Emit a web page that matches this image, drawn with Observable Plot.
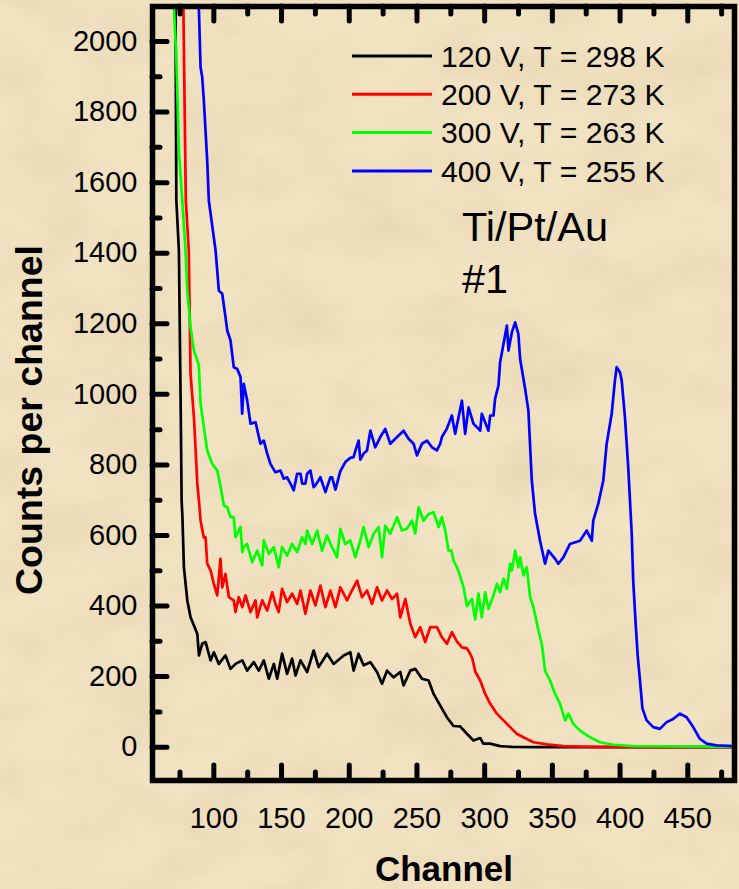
<!DOCTYPE html>
<html><head><meta charset="utf-8">
<script src="https://cdn.jsdelivr.net/npm/d3@7"></script>
<script src="https://cdn.jsdelivr.net/npm/@observablehq/plot@0.6"></script>
<style>
html,body{margin:0;padding:0;}
body{width:739px;height:889px;overflow:hidden;background:#f1e2c2;font-family:"Liberation Sans",Arial,sans-serif;}
#wrap{position:relative;width:739px;height:889px;}
#tex,#chart,#over{position:absolute;left:0;top:0;}
</style></head><body>
<div id="wrap">
<svg id="tex" width="739" height="889"><filter id="f" x="0" y="0" width="100%" height="100%"><feTurbulence type="fractalNoise" baseFrequency="0.012 0.02" numOctaves="4" seed="7"/><feColorMatrix type="matrix" values="0 0 0 0 0.62  0 0 0 0 0.47  0 0 0 0 0.25  0 0 0 1.6 -0.62"/></filter><rect width="739" height="889" filter="url(#f)" opacity="0.25"/></svg>
<div id="chart"></div>
<svg id="over" width="739" height="889"></svg>
</div>
<script>
// ---- data ----
const channels_120V = [71.6,71.9,72.3,74.2,75.6,76.2,76.8,77.9,80.4,82.8,85.3,87.8,89.0,91.4,93.9,97.6,100,103.7,108.6,112.3,116,121,124.6,129.5,133.2,136.9,140.6,144.3,146.8,150.4,154.1,157.8,160.3,164,168.9,173.7,177.4,183.6,188.5,195.9,200.8,203.2,206.9,210.6,215.6,220.5,224.2,227.9,232.7,237.7,240.1,245.1,248.7,253.7,258.6,262.3,267.2,272.1,277,281.9,286.9,291.7,296.7,299,304,311.4,320,340,380,430,485];
const counts_120V   = [2200,1900,1550,1407,935,699,652,510,416,368,345,321,260,293,298,246,269,236,260,222,236,246,217,241,217,246,194,236,194,265,208,251,203,246,213,274,227,265,236,260,269,217,265,232,241,213,180,217,198,213,175,217,222,194,189,151,118,85,60,59,38,19,26,10,10,3,1,0,0,0,0];

const channels_200V = [77.2,77.5,79.3,81.5,82.8,85.3,87.8,89,90.2,92.6,93.9,95.1,97.6,100,102.5,104.9,106.2,108.6,111.1,114.7,116,118.4,121,123.4,127.1,130.8,132,135.7,139.4,143.1,145.5,147.9,150.4,154.1,157.8,161.5,164,167.6,171.3,175,178.7,182.4,186.1,189.8,193.4,198.4,200.8,205.8,209.4,213.1,216.8,220.5,224.2,227.9,231.6,235.3,237.7,241.4,245.1,248.7,252.4,256.1,259.8,264.7,268.4,272.1,275.8,279.5,283.2,286.9,289.3,291,293,296.7,300.4,304.1,309,313.9,318.8,323.7,328.6,336,345.9,358,380,420,485];
const counts_200V   = [2200,2099,1549,1407,1059,935,747,699,642,594,595,520,501,463,430,534,453,491,425,416,383,425,397,430,383,416,368,416,387,439,406,383,449,411,435,406,444,378,444,402,458,397,444,397,453,416,435,472,425,444,406,453,416,444,420,435,368,420,350,312,340,298,340,340,312,293,326,300,283,280,265,250,215,189,151,123,95,76,57,38,28,14,8,3,1,0,0];

const channels_300V = [70.3,70.5,71.8,72.1,74.2,76.7,79.1,80.4,82.8,85.3,87.5,88.9,90.2,92.6,95.1,98.8,102.5,104.9,107.4,109.9,112.3,114.7,116,117.3,119.7,121,122.1,124.6,128.3,132,135.7,136.9,140.6,144.3,147.9,150.4,154.1,157.8,161.5,165.2,167.6,168.9,172.6,176.3,179.9,183.6,187.3,191,193.4,197.1,200.8,204.5,208.2,210.6,214.3,218,221.7,224.2,226.6,230.3,235.3,238.9,242.6,246.3,248.7,251.2,254.9,258.6,262.3,266,268.4,270.9,273.3,275.5,277,279.5,281.5,284.4,286.9,290.6,293,295.4,297.9,300.4,302.8,306.5,309,311.4,313.9,316.4,318.8,320.1,322.5,324.9,326.2,328.6,331.1,333.6,336,339.7,342.2,344.6,348.3,352,355.7,359.4,361.8,365.5,370.4,377.8,385.2,395,410,440,485];
const counts_300V   = [2200,2099,1994,1980,1691,1549,1407,1294,1190,1124,1100,1082,974,907,841,803,784,740,685,680,652,652,595,605,624,553,567,576,524,557,515,586,548,567,510,567,543,576,553,595,576,614,576,614,557,600,567,538,619,576,586,538,586,624,567,605,624,538,628,605,652,614,619,642,605,680,642,661,666,624,652,614,557,557,529,510,490,453,400,420,362,435,368,439,392,430,463,439,477,449,520,501,557,510,538,487,510,425,397,331,293,217,189,151,123,76,95,66,47,28,14,7,3,2,1];

const channels_400V = [88.5,88.9,90.2,91.4,92.6,95.1,96.3,101.3,103.7,106.2,108.6,109.9,112.3,114.7,117.3,119.7,120.9,122.1,124.6,127.1,130.8,134.4,136.9,139.4,141.8,145.5,149.2,151.6,154.1,156.6,159,161.5,164,165.2,167.6,168.9,171.3,173.7,175,178.7,182.4,183.6,186.1,187.3,189.8,193.4,197.1,200.8,203.2,204.5,206.9,208.2,210.6,213.1,215.6,219.2,222.9,226.6,230.3,235.3,240.1,243.8,247.5,250,253.7,257.4,261.1,264.7,267.2,268.4,272.1,275.8,278.2,283.2,285.6,288.1,291.7,296.7,297.9,302.8,304.1,306.5,307.7,310.2,311.4,313.9,316.4,317.6,320.1,322.5,324.9,326.2,329.9,332.3,334.8,337.2,340.9,344.6,347.1,352,354.4,358.1,363,370.4,375.4,379.1,380.2,383.9,387.6,390.1,393.8,396.2,397.5,399.9,401.2,403.6,406,408.6,409.7,411.5,413,414.7,416.5,419.6,424.5,429.4,434.4,439.2,444.2,449.1,454,458.9,463.9,471,485];
const counts_400V   = [2200,2099,1927,1899,1833,1663,1549,1407,1294,1285,1219,1181,1153,1077,1072,1049,945,1030,983,917,921,860,869,832,803,779,784,761,765,747,728,775,775,747,747,775,784,737,742,765,723,737,765,765,730,782,808,820,822,840,869,815,832,841,897,850,879,902,860,879,897,874,860,827,860,869,850,841,860,879,903,940,888,982,888,963,917,897,945,897,940,940,988,1025,1091,1143,1195,1124,1176,1204,1171,1100,1015,954,756,662,585,520,557,534,520,538,576,585,614,585,642,690,756,860,945,1039,1077,1063,1039,935,794,605,472,350,260,189,110,76,57,52,71,80,95,85,57,24,10,5,3];

const seriesLabels = ["120 V, T = 298 K","200 V, T = 273 K","300 V, T = 263 K","400 V, T = 255 K"];
const seriesColors = ["#000000","#ff0000","#00ff00","#0000ff"];
const xMajorTicks = [100,150,200,250,300,350,400,450];
const xMinorTicks = [75,125,175,225,275,325,375,425,475];
const yMajorTicks = [0,200,400,600,800,1000,1200,1400,1600,1800,2000];
const yMinorTicks = [100,300,500,700,900,1100,1300,1500,1700,1900];
const xTitle = "Channel";
const yTitle = "Counts per channel";
const sampleLabel = ["Ti/Pt/Au","#1"];

// ---- build ----
const chanArrays = [channels_120V, channels_200V, channels_300V, channels_400V];
const countArrays = [counts_120V, counts_200V, counts_300V, counts_400V];
const rows = [];
chanArrays.forEach((ch, s) => ch.forEach((c, i) => {
  if (countArrays[s][i] !== undefined) rows.push({series: seriesLabels[s], channel: c, counts: countArrays[s][i]});
}));

const W = 739, H = 889, mL = 152, mR = 5, mT = 6, mB = 109;
const plotW = W - mL - mR, plotH = H - mT - mB;
const font = "'Liberation Sans', Arial, Helvetica, sans-serif";
const tickStyle = {stroke: "#000", strokeWidth: 5, strokeLinecap: "round"};

const chart = Plot.plot({
  width: W, height: H,
  marginLeft: mL, marginRight: mR, marginTop: mT, marginBottom: mB,
  style: {background: "transparent", fontFamily: font, color: "#000", overflow: "visible"},
  x: {domain: [54.7, 484.5]},
  y: {domain: [-94.4, 2099.2]},
  color: {domain: seriesLabels, range: seriesColors},
  marks: [
    Plot.line(rows, {x: "channel", y: "counts", z: "series", stroke: "series", strokeWidth: 2.7, strokeLinejoin: "round", clip: true}),
    // inward ticks: bottom, top, left
    Plot.tickX(xMajorTicks, {x: d => d, insetTop: plotH - 15, ...tickStyle}),
    Plot.tickX(xMinorTicks, {x: d => d, insetTop: plotH - 8, ...tickStyle}),
    Plot.tickX(xMajorTicks, {x: d => d, insetBottom: plotH - 15, ...tickStyle}),
    Plot.tickX(xMinorTicks, {x: d => d, insetBottom: plotH - 8, ...tickStyle}),
    Plot.tickY(yMajorTicks, {y: d => d, insetRight: plotW - 15, ...tickStyle}),
    Plot.tickY(yMinorTicks, {y: d => d, insetRight: plotW - 8, ...tickStyle}),
    Plot.axisX({ticks: xMajorTicks, tickSize: 0, tickPadding: 27, label: null, fontSize: 29, tickFormat: d => String(d)}),
    Plot.axisY({ticks: yMajorTicks, tickSize: 0, tickPadding: 15, label: null, fontSize: 29, tickFormat: d => String(d)}),
    Plot.frame({stroke: "#000", strokeWidth: 5.5})
  ]
});
document.getElementById("chart").appendChild(chart);

// ---- titles, legend and annotation overlay ----
const over = d3.select("#over").style("font-family", font);
over.append("text").attr("x", 444).attr("y", 881).attr("text-anchor", "middle")
  .attr("font-weight", "bold").attr("font-size", 35).text(xTitle);
over.append("text").attr("transform", "translate(41.5,420) rotate(-90)").attr("text-anchor", "middle")
  .attr("font-weight", "bold").attr("font-size", 37.5).text(yTitle);
const lg = over.append("g");
seriesLabels.forEach((lab, i) => {
  const yy = 56 + i * 38.3;
  lg.append("line").attr("x1", 352).attr("x2", 432).attr("y1", yy).attr("y2", yy)
    .attr("stroke", seriesColors[i]).attr("stroke-width", 3);
  lg.append("text").attr("x", 441).attr("y", yy + 10.8).attr("font-size", 30.2).text(lab);
});
sampleLabel.forEach((t, i) => {
  over.append("text").attr("x", 462).attr("y", 241 + i * 52).attr("font-size", 41.5).text(t);
});
</script>
</body></html>
